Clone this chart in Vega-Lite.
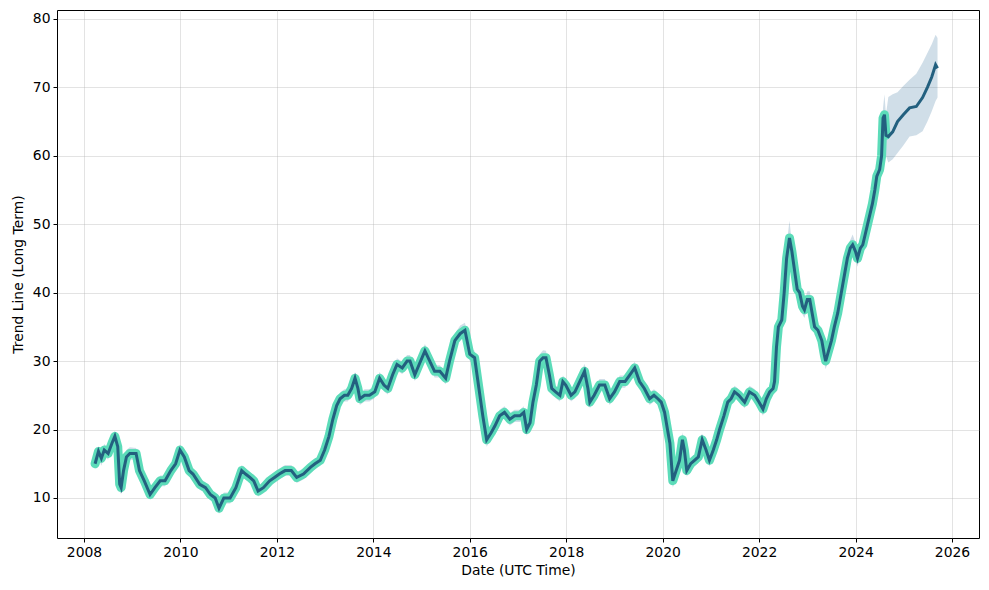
{
  "$schema": "https://vega.github.io/schema/vega-lite/v6.json",
  "width": 922,
  "height": 528,
  "autosize": {"type": "none"},
  "padding": {"left": 57, "top": 10, "right": 10, "bottom": 52},
  "config": {
    "font": "DejaVu Sans",
    "view": {"stroke": "#000000", "strokeWidth": 1},
    "axis": {
      "labelFont": "DejaVu Sans", "titleFont": "DejaVu Sans",
      "labelFontSize": 13.9, "titleFontSize": 13.9, "titleFontWeight": "normal",
      "labelColor": "#000000", "titleColor": "#000000",
      "tickColor": "#000000", "tickSize": 4, "labelPadding": 3,
      "domain": false, "gridColor": "#b0b0b0", "gridOpacity": 0.35, "gridWidth": 1
    }
  },
  "data": {"values": [
    {"t":2008.23,"y":15,"lo":14.2,"hi":15.8,"p":"h"},
    {"t":2008.30,"y":16.8,"lo":15.8,"hi":17.6,"p":"h"},
    {"t":2008.36,"y":15.8,"lo":14.7,"hi":16.6,"p":"h"},
    {"t":2008.42,"y":17,"lo":16.1,"hi":17.9,"p":"h"},
    {"t":2008.50,"y":16.5,"lo":15.6,"hi":17.3,"p":"h"},
    {"t":2008.58,"y":18,"lo":17.1,"hi":18.9,"p":"h"},
    {"t":2008.64,"y":19,"lo":18.1,"hi":19.8,"p":"h"},
    {"t":2008.70,"y":17.5,"lo":16.5,"hi":18.4,"p":"h"},
    {"t":2008.74,"y":12,"lo":11,"hi":13,"p":"h"},
    {"t":2008.77,"y":11.5,"lo":10.5,"hi":12.5,"p":"h"},
    {"t":2008.82,"y":14,"lo":13,"hi":15,"p":"h"},
    {"t":2008.88,"y":16,"lo":15,"hi":17,"p":"h"},
    {"t":2008.95,"y":16.5,"lo":15.6,"hi":17.4,"p":"h"},
    {"t":2009.08,"y":16.5,"lo":15.6,"hi":17.3,"p":"h"},
    {"t":2009.15,"y":14,"lo":13.1,"hi":14.9,"p":"h"},
    {"t":2009.25,"y":12.5,"lo":11.6,"hi":13.3,"p":"h"},
    {"t":2009.37,"y":10.5,"lo":9.7,"hi":11.3,"p":"h"},
    {"t":2009.47,"y":11.5,"lo":10.7,"hi":12.3,"p":"h"},
    {"t":2009.58,"y":12.5,"lo":11.7,"hi":13.3,"p":"h"},
    {"t":2009.68,"y":12.5,"lo":11.7,"hi":13.3,"p":"h"},
    {"t":2009.80,"y":14,"lo":13.2,"hi":14.8,"p":"h"},
    {"t":2009.90,"y":15,"lo":14.2,"hi":15.8,"p":"h"},
    {"t":2009.99,"y":17,"lo":16.2,"hi":17.8,"p":"h"},
    {"t":2010.08,"y":16,"lo":15.2,"hi":16.8,"p":"h"},
    {"t":2010.18,"y":14,"lo":13.2,"hi":14.8,"p":"h"},
    {"t":2010.26,"y":13.5,"lo":12.7,"hi":14.3,"p":"h"},
    {"t":2010.40,"y":12,"lo":11.2,"hi":12.8,"p":"h"},
    {"t":2010.52,"y":11.5,"lo":10.7,"hi":12.3,"p":"h"},
    {"t":2010.62,"y":10.5,"lo":9.7,"hi":11.3,"p":"h"},
    {"t":2010.72,"y":10,"lo":9.2,"hi":10.8,"p":"h"},
    {"t":2010.80,"y":8.5,"lo":7.7,"hi":9.3,"p":"h"},
    {"t":2010.90,"y":10,"lo":9.2,"hi":10.8,"p":"h"},
    {"t":2011.03,"y":10,"lo":9.2,"hi":10.8,"p":"h"},
    {"t":2011.15,"y":11.5,"lo":10.7,"hi":12.3,"p":"h"},
    {"t":2011.27,"y":14,"lo":13.2,"hi":14.8,"p":"h"},
    {"t":2011.35,"y":13.5,"lo":12.7,"hi":14.3,"p":"h"},
    {"t":2011.44,"y":13,"lo":12.2,"hi":13.8,"p":"h"},
    {"t":2011.52,"y":12.5,"lo":11.7,"hi":13.3,"p":"h"},
    {"t":2011.61,"y":11,"lo":10.2,"hi":11.8,"p":"h"},
    {"t":2011.72,"y":11.5,"lo":10.7,"hi":12.3,"p":"h"},
    {"t":2011.85,"y":12.5,"lo":11.7,"hi":13.3,"p":"h"},
    {"t":2011.95,"y":13,"lo":12.2,"hi":13.8,"p":"h"},
    {"t":2012.05,"y":13.5,"lo":12.7,"hi":14.3,"p":"h"},
    {"t":2012.17,"y":14,"lo":13.2,"hi":14.8,"p":"h"},
    {"t":2012.30,"y":14,"lo":13.2,"hi":14.8,"p":"h"},
    {"t":2012.41,"y":13,"lo":12.2,"hi":13.8,"p":"h"},
    {"t":2012.55,"y":13.5,"lo":12.7,"hi":14.3,"p":"h"},
    {"t":2012.70,"y":14.5,"lo":13.7,"hi":15.3,"p":"h"},
    {"t":2012.79,"y":15,"lo":14.2,"hi":15.8,"p":"h"},
    {"t":2012.90,"y":15.5,"lo":14.7,"hi":16.3,"p":"h"},
    {"t":2012.99,"y":17,"lo":16.2,"hi":17.8,"p":"h"},
    {"t":2013.08,"y":19,"lo":18.1,"hi":19.9,"p":"h"},
    {"t":2013.16,"y":21.5,"lo":20.5,"hi":22.5,"p":"h"},
    {"t":2013.24,"y":23.5,"lo":22.5,"hi":24.5,"p":"h"},
    {"t":2013.31,"y":24.5,"lo":23.6,"hi":25.4,"p":"h"},
    {"t":2013.40,"y":25,"lo":24.1,"hi":25.9,"p":"h"},
    {"t":2013.47,"y":25,"lo":24.1,"hi":25.9,"p":"h"},
    {"t":2013.55,"y":26,"lo":25.1,"hi":26.9,"p":"h"},
    {"t":2013.62,"y":27.5,"lo":26.6,"hi":28.4,"p":"h"},
    {"t":2013.68,"y":26,"lo":25.1,"hi":26.9,"p":"h"},
    {"t":2013.72,"y":24.5,"lo":23.6,"hi":25.4,"p":"h"},
    {"t":2013.82,"y":25,"lo":24.1,"hi":25.9,"p":"h"},
    {"t":2013.92,"y":25,"lo":24.1,"hi":25.9,"p":"h"},
    {"t":2014.03,"y":25.5,"lo":24.6,"hi":26.4,"p":"h"},
    {"t":2014.13,"y":27.5,"lo":26.6,"hi":28.4,"p":"h"},
    {"t":2014.22,"y":26.5,"lo":25.6,"hi":27.4,"p":"h"},
    {"t":2014.30,"y":26,"lo":25.1,"hi":26.9,"p":"h"},
    {"t":2014.40,"y":28,"lo":27.1,"hi":28.9,"p":"h"},
    {"t":2014.49,"y":29.5,"lo":28.6,"hi":30.4,"p":"h"},
    {"t":2014.60,"y":29,"lo":28.1,"hi":29.9,"p":"h"},
    {"t":2014.70,"y":30,"lo":29.1,"hi":30.9,"p":"h"},
    {"t":2014.76,"y":30,"lo":29.1,"hi":30.9,"p":"h"},
    {"t":2014.86,"y":28,"lo":27.1,"hi":28.9,"p":"h"},
    {"t":2014.95,"y":29.5,"lo":28.6,"hi":30.4,"p":"h"},
    {"t":2015.07,"y":31.5,"lo":30.6,"hi":32.5,"p":"h"},
    {"t":2015.17,"y":30,"lo":29.1,"hi":30.9,"p":"h"},
    {"t":2015.27,"y":28.5,"lo":27.6,"hi":29.4,"p":"h"},
    {"t":2015.38,"y":28.5,"lo":27.6,"hi":29.4,"p":"h"},
    {"t":2015.50,"y":27.5,"lo":26.6,"hi":28.4,"p":"h"},
    {"t":2015.58,"y":30,"lo":29.1,"hi":30.9,"p":"h"},
    {"t":2015.69,"y":33,"lo":32,"hi":34,"p":"h"},
    {"t":2015.80,"y":34,"lo":33,"hi":35.2,"p":"h"},
    {"t":2015.90,"y":34.5,"lo":33.5,"hi":35.6,"p":"h"},
    {"t":2016.00,"y":31,"lo":30,"hi":32,"p":"h"},
    {"t":2016.10,"y":30.5,"lo":29.5,"hi":31.5,"p":"h"},
    {"t":2016.19,"y":26,"lo":25,"hi":27,"p":"h"},
    {"t":2016.27,"y":22,"lo":21,"hi":23,"p":"h"},
    {"t":2016.35,"y":18.5,"lo":17.5,"hi":19.5,"p":"h"},
    {"t":2016.44,"y":19.5,"lo":18.6,"hi":20.4,"p":"h"},
    {"t":2016.52,"y":20.5,"lo":19.6,"hi":21.4,"p":"h"},
    {"t":2016.62,"y":22,"lo":21.1,"hi":22.9,"p":"h"},
    {"t":2016.72,"y":22.5,"lo":21.6,"hi":23.4,"p":"h"},
    {"t":2016.83,"y":21.5,"lo":20.6,"hi":22.4,"p":"h"},
    {"t":2016.93,"y":22,"lo":21.1,"hi":22.9,"p":"h"},
    {"t":2017.04,"y":22,"lo":21.1,"hi":22.9,"p":"h"},
    {"t":2017.12,"y":22.5,"lo":21.6,"hi":23.4,"p":"h"},
    {"t":2017.18,"y":20,"lo":19.1,"hi":20.9,"p":"h"},
    {"t":2017.25,"y":21,"lo":20.1,"hi":21.9,"p":"h"},
    {"t":2017.31,"y":24,"lo":23.1,"hi":24.9,"p":"h"},
    {"t":2017.38,"y":26.5,"lo":25.6,"hi":27.4,"p":"h"},
    {"t":2017.45,"y":30,"lo":29,"hi":31,"p":"h"},
    {"t":2017.52,"y":30.5,"lo":29.5,"hi":31.6,"p":"h"},
    {"t":2017.58,"y":30.5,"lo":29.5,"hi":31.5,"p":"h"},
    {"t":2017.65,"y":28,"lo":27.1,"hi":28.9,"p":"h"},
    {"t":2017.70,"y":26,"lo":25.1,"hi":26.9,"p":"h"},
    {"t":2017.78,"y":25.5,"lo":24.6,"hi":26.4,"p":"h"},
    {"t":2017.87,"y":25,"lo":24.1,"hi":25.9,"p":"h"},
    {"t":2017.93,"y":27,"lo":26.1,"hi":27.9,"p":"h"},
    {"t":2017.99,"y":26.5,"lo":25.6,"hi":27.4,"p":"h"},
    {"t":2018.10,"y":25,"lo":24.1,"hi":25.9,"p":"h"},
    {"t":2018.18,"y":25.5,"lo":24.6,"hi":26.4,"p":"h"},
    {"t":2018.28,"y":27,"lo":26.1,"hi":27.9,"p":"h"},
    {"t":2018.38,"y":28.5,"lo":27.6,"hi":29.6,"p":"h"},
    {"t":2018.45,"y":26,"lo":25.1,"hi":26.9,"p":"h"},
    {"t":2018.49,"y":24,"lo":23.1,"hi":24.9,"p":"h"},
    {"t":2018.58,"y":25,"lo":24.1,"hi":25.9,"p":"h"},
    {"t":2018.69,"y":26.5,"lo":25.6,"hi":27.4,"p":"h"},
    {"t":2018.80,"y":26.5,"lo":25.6,"hi":27.4,"p":"h"},
    {"t":2018.90,"y":24.5,"lo":23.6,"hi":25.4,"p":"h"},
    {"t":2019.00,"y":25.5,"lo":24.6,"hi":26.4,"p":"h"},
    {"t":2019.11,"y":27,"lo":26.1,"hi":27.9,"p":"h"},
    {"t":2019.22,"y":27,"lo":26.1,"hi":27.9,"p":"h"},
    {"t":2019.32,"y":28,"lo":27.1,"hi":28.9,"p":"h"},
    {"t":2019.42,"y":29,"lo":28.1,"hi":29.9,"p":"h"},
    {"t":2019.52,"y":27,"lo":26.1,"hi":27.9,"p":"h"},
    {"t":2019.62,"y":26,"lo":25.1,"hi":26.9,"p":"h"},
    {"t":2019.73,"y":24.5,"lo":23.6,"hi":25.4,"p":"h"},
    {"t":2019.82,"y":25,"lo":24.1,"hi":25.9,"p":"h"},
    {"t":2019.90,"y":24.5,"lo":23.6,"hi":25.4,"p":"h"},
    {"t":2019.97,"y":24,"lo":23.1,"hi":24.9,"p":"h"},
    {"t":2020.04,"y":22.5,"lo":21.6,"hi":23.4,"p":"h"},
    {"t":2020.10,"y":20,"lo":19,"hi":21,"p":"h"},
    {"t":2020.15,"y":18,"lo":17,"hi":19,"p":"h"},
    {"t":2020.21,"y":12.5,"lo":11.5,"hi":13.5,"p":"h"},
    {"t":2020.28,"y":14,"lo":13,"hi":15,"p":"h"},
    {"t":2020.35,"y":15.5,"lo":14.6,"hi":16.4,"p":"h"},
    {"t":2020.41,"y":18.5,"lo":17.6,"hi":19.6,"p":"h"},
    {"t":2020.45,"y":17,"lo":16.1,"hi":17.9,"p":"h"},
    {"t":2020.50,"y":14,"lo":13.1,"hi":14.9,"p":"h"},
    {"t":2020.58,"y":15,"lo":14.1,"hi":15.9,"p":"h"},
    {"t":2020.66,"y":15.5,"lo":14.6,"hi":16.4,"p":"h"},
    {"t":2020.74,"y":16,"lo":15.1,"hi":16.9,"p":"h"},
    {"t":2020.82,"y":18.5,"lo":17.6,"hi":19.4,"p":"h"},
    {"t":2020.90,"y":17,"lo":16.1,"hi":17.9,"p":"h"},
    {"t":2020.97,"y":15.5,"lo":14.6,"hi":16.4,"p":"h"},
    {"t":2021.05,"y":17,"lo":16.1,"hi":17.9,"p":"h"},
    {"t":2021.12,"y":18.5,"lo":17.6,"hi":19.4,"p":"h"},
    {"t":2021.18,"y":20,"lo":19.1,"hi":20.9,"p":"h"},
    {"t":2021.27,"y":22,"lo":21.1,"hi":22.9,"p":"h"},
    {"t":2021.35,"y":24,"lo":23.1,"hi":24.9,"p":"h"},
    {"t":2021.42,"y":24.5,"lo":23.6,"hi":25.4,"p":"h"},
    {"t":2021.49,"y":25.5,"lo":24.6,"hi":26.4,"p":"h"},
    {"t":2021.58,"y":25,"lo":24.1,"hi":25.9,"p":"h"},
    {"t":2021.70,"y":24,"lo":23.1,"hi":24.9,"p":"h"},
    {"t":2021.80,"y":25.5,"lo":24.6,"hi":26.4,"p":"h"},
    {"t":2021.91,"y":25,"lo":24.1,"hi":25.9,"p":"h"},
    {"t":2022.00,"y":24,"lo":23.1,"hi":24.9,"p":"h"},
    {"t":2022.08,"y":23,"lo":22,"hi":24,"p":"h"},
    {"t":2022.15,"y":24.5,"lo":23.5,"hi":25.5,"p":"h"},
    {"t":2022.22,"y":25.5,"lo":24.5,"hi":26.5,"p":"h"},
    {"t":2022.29,"y":26,"lo":25,"hi":27,"p":"h"},
    {"t":2022.32,"y":27,"lo":26,"hi":28,"p":"h"},
    {"t":2022.36,"y":32,"lo":31,"hi":33.2,"p":"h"},
    {"t":2022.40,"y":35,"lo":34,"hi":36.2,"p":"h"},
    {"t":2022.47,"y":36,"lo":35,"hi":37.2,"p":"h"},
    {"t":2022.52,"y":40,"lo":39,"hi":41.3,"p":"h"},
    {"t":2022.57,"y":45,"lo":44,"hi":47,"p":"h"},
    {"t":2022.63,"y":48,"lo":46.8,"hi":50.5,"p":"h"},
    {"t":2022.68,"y":46,"lo":44.8,"hi":47.2,"p":"h"},
    {"t":2022.74,"y":43,"lo":41.8,"hi":44.2,"p":"h"},
    {"t":2022.79,"y":40.5,"lo":39.3,"hi":41.7,"p":"h"},
    {"t":2022.84,"y":40,"lo":38.8,"hi":41.2,"p":"h"},
    {"t":2022.90,"y":38,"lo":36.8,"hi":39.2,"p":"h"},
    {"t":2022.94,"y":37.5,"lo":36.3,"hi":38.7,"p":"h"},
    {"t":2023.00,"y":39,"lo":37.8,"hi":40.2,"p":"h"},
    {"t":2023.05,"y":39,"lo":37.8,"hi":40.2,"p":"h"},
    {"t":2023.10,"y":37,"lo":35.8,"hi":38.2,"p":"h"},
    {"t":2023.15,"y":35,"lo":33.8,"hi":36.2,"p":"h"},
    {"t":2023.22,"y":34.5,"lo":33.3,"hi":35.7,"p":"h"},
    {"t":2023.30,"y":33,"lo":31.8,"hi":34.2,"p":"h"},
    {"t":2023.35,"y":31,"lo":29.8,"hi":32.2,"p":"h"},
    {"t":2023.38,"y":30,"lo":28.8,"hi":31.2,"p":"h"},
    {"t":2023.44,"y":31.5,"lo":30.3,"hi":32.7,"p":"h"},
    {"t":2023.50,"y":33,"lo":31.8,"hi":34.2,"p":"h"},
    {"t":2023.56,"y":35,"lo":33.8,"hi":36.2,"p":"h"},
    {"t":2023.63,"y":37,"lo":35.8,"hi":38.2,"p":"h"},
    {"t":2023.68,"y":39,"lo":37.8,"hi":40.2,"p":"h"},
    {"t":2023.73,"y":41,"lo":39.8,"hi":42.2,"p":"h"},
    {"t":2023.78,"y":43,"lo":41.8,"hi":44.2,"p":"h"},
    {"t":2023.83,"y":45,"lo":43.8,"hi":46.2,"p":"h"},
    {"t":2023.89,"y":46.5,"lo":45.3,"hi":47.7,"p":"h"},
    {"t":2023.94,"y":47,"lo":45.8,"hi":48.5,"p":"h"},
    {"t":2024.00,"y":46,"lo":44.8,"hi":47.2,"p":"h"},
    {"t":2024.04,"y":45,"lo":43.8,"hi":46.2,"p":"h"},
    {"t":2024.10,"y":46.5,"lo":45.3,"hi":47.7,"p":"h"},
    {"t":2024.15,"y":47,"lo":45.8,"hi":49,"p":"h"},
    {"t":2024.20,"y":48.5,"lo":47.3,"hi":49.7,"p":"h"},
    {"t":2024.25,"y":50,"lo":48.8,"hi":51.2,"p":"h"},
    {"t":2024.30,"y":51.5,"lo":50.3,"hi":52.7,"p":"h"},
    {"t":2024.35,"y":53,"lo":51.8,"hi":54.5,"p":"h"},
    {"t":2024.40,"y":55,"lo":53.8,"hi":56.2,"p":"h"},
    {"t":2024.44,"y":57,"lo":55.8,"hi":58.2,"p":"h"},
    {"t":2024.50,"y":58,"lo":56.8,"hi":59.2,"p":"h"},
    {"t":2024.54,"y":60,"lo":58.8,"hi":61.5,"p":"h"},
    {"t":2024.57,"y":65.5,"lo":64,"hi":67,"p":"h"},
    {"t":2024.60,"y":66,"lo":64.5,"hi":69,"p":"h"},
    {"t":2024.63,"y":63,"lo":60,"hi":66,"p":"h"},
    {"t":2024.68,"y":62.8,"lo":59,"hi":68.6,"p":"f"},
    {"t":2024.77,"y":63.5,"lo":59.5,"hi":69,"p":"f"},
    {"t":2024.87,"y":65,"lo":60.4,"hi":69.3,"p":"f"},
    {"t":2024.99,"y":66,"lo":61.5,"hi":70.2,"p":"f"},
    {"t":2025.12,"y":67,"lo":62.8,"hi":71.1,"p":"f"},
    {"t":2025.26,"y":67.2,"lo":63,"hi":72,"p":"f"},
    {"t":2025.39,"y":68.5,"lo":63.6,"hi":73.6,"p":"f"},
    {"t":2025.49,"y":70,"lo":65,"hi":75,"p":"f"},
    {"t":2025.58,"y":71.5,"lo":66.5,"hi":76.3,"p":"f"},
    {"t":2025.66,"y":73.3,"lo":68,"hi":77.7,"p":"f"},
    {"t":2025.70,"y":72.8,"lo":68.5,"hi":77.2,"p":"f"}
  ]},
  "encoding": {
    "x": {"field": "t", "type": "quantitative",
      "scale": {"domain": [2007.44, 2026.56], "nice": false, "zero": false},
      "axis": {"values": [2008, 2010, 2012, 2014, 2016, 2018, 2020, 2022, 2024, 2026], "format": "d", "title": "Date (UTC Time)", "titlePadding": 5}}
  },
  "layer": [
    {
      "mark": {"type": "area", "color": "#2b6a94", "opacity": 0.22},
      "encoding": {
        "y": {"field": "lo", "type": "quantitative",
          "scale": {"domain": [4.15, 81.3], "nice": false, "zero": false},
          "axis": {"values": [10, 20, 30, 40, 50, 60, 70, 80], "title": "Trend Line (Long Term)", "titlePadding": 7}},
        "y2": {"field": "hi"}
      }
    },
    {
      "transform": [{"filter": "datum.p == 'h'"}],
      "mark": {"type": "line", "color": "#5cdcb9", "strokeWidth": 9, "strokeJoin": "round", "strokeCap": "round"},
      "encoding": {"y": {"field": "y", "type": "quantitative"}}
    },
    {
      "mark": {"type": "line", "color": "#23607f", "strokeWidth": 3},
      "encoding": {"y": {"field": "y", "type": "quantitative"}}
    }
  ]
}
